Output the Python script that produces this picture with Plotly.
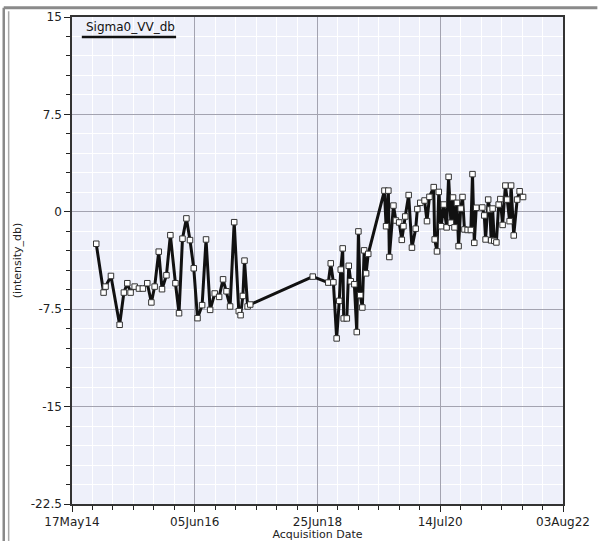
import plotly.graph_objects as go

dates = [
    "2014-10-12", "2014-11-26", "2014-12-08", "2015-01-10", "2015-03-04", "2015-03-30",
    "2015-04-20", "2015-05-10", "2015-06-04", "2015-06-30", "2015-07-24", "2015-08-20",
    "2015-09-14", "2015-10-04", "2015-10-29", "2015-11-18", "2015-12-15", "2016-01-08",
    "2016-02-08", "2016-03-01", "2016-03-22", "2016-04-15", "2016-05-07", "2016-05-30",
    "2016-06-22", "2016-07-20", "2016-08-13", "2016-09-07", "2016-10-05", "2016-11-01",
    "2016-11-25", "2016-12-16", "2017-01-07", "2017-02-01", "2017-03-01", "2017-03-12",
    "2017-03-26", "2017-04-05", "2017-04-24", "2017-05-10",
    "2018-05-27", "2018-08-30", "2018-09-14", "2018-09-30", "2018-10-20", "2018-11-05",
    "2018-11-14", "2018-11-26", "2018-12-02", "2018-12-21", "2019-01-02", "2019-01-14",
    "2019-02-05", "2019-02-20", "2019-03-02", "2019-03-13", "2019-03-26", "2019-04-06",
    "2019-04-18", "2019-05-01", "2019-08-08", "2019-08-18", "2019-09-01", "2019-09-07",
    "2019-10-02", "2019-10-17", "2019-11-06", "2019-11-22", "2019-12-02", "2019-12-13",
    "2020-01-03", "2020-01-23", "2020-02-15", "2020-02-25", "2020-03-14", "2020-04-09",
    "2020-04-24", "2020-05-09", "2020-06-04", "2020-06-10", "2020-06-24", "2020-07-05",
    "2020-07-20", "2020-08-04", "2020-08-22", "2020-09-03", "2020-09-17", "2020-09-30",
    "2020-10-09", "2020-10-24", "2020-11-03", "2020-11-16", "2020-11-27", "2020-12-09",
    "2020-12-28", "2021-01-17", "2021-01-27", "2021-02-07", "2021-02-19", "2021-03-28",
    "2021-04-09", "2021-04-17", "2021-05-03", "2021-05-13", "2021-05-21", "2021-05-30",
    "2021-06-09", "2021-06-22", "2021-07-06", "2021-07-16", "2021-07-30", "2021-08-16",
    "2021-08-27", "2021-09-11", "2021-09-20", "2021-10-06", "2021-10-27", "2021-11-11",
    "2021-12-02",
]

sigma0_vv_db = [
    -2.46, -6.22, -5.76, -4.94, -8.70, -6.22,
    -5.50, -6.22, -5.76, -5.91, -5.91, -5.50,
    -6.98, -5.76, -3.07, -5.96, -4.89, -1.80,
    -5.50, -7.81, -2.07, -0.51, -2.18, -4.35,
    -8.19, -7.19, -2.13, -7.55, -6.29, -6.55,
    -5.20, -6.12, -7.29, -0.80, -7.65, -7.96,
    -6.48, -3.76, -7.29, -7.14,
    -4.99, -5.45, -3.97, -5.43, -9.75, -6.86,
    -4.45, -2.82, -8.21, -8.21, -4.16, -5.35,
    -5.58, -9.26, -1.51, -6.42, -7.37, -2.97,
    -4.74, -3.24, 1.63, -1.11, 1.63, -3.48,
    0.48, -0.67, -0.82, -2.16, -1.11, -0.36,
    1.29, -2.76, -1.30, 0.21, 0.69, 0.87,
    -0.72, 1.15, 1.90, -2.13, -3.05, 1.53,
    -1.11, 0.56, -1.20, 2.69, -0.84, 1.10,
    -1.20, 0.69, -2.64, 0.25, 1.14, -1.36,
    -1.40, -1.40, 2.90, -2.39, 0.31, 0.33,
    -0.28, -2.13, 0.94, 0.18, -2.20, 0.25,
    -2.24, -2.36, 0.56, 0.98, -1.01, 2.02,
    0.94, -0.72, 2.02, -1.82, 0.94, 1.58,
    1.14,
]

y_ticks = [-22.5, -15, -7.5, 0, 7.5, 15]
y_tick_labels = ["-22.5", "-15", "-7.5", "0", "7.5", "15"]
x_range = ["2014-05-17", "2022-08-03"]
series_name = "Sigma0_VV_db"

DAY_MS = 86400000
FONT = "DejaVu Sans"

fig = go.Figure()
fig.add_trace(go.Scatter(
    x=dates, y=sigma0_vv_db, mode="lines+markers", name=series_name,
    line=dict(color="#111111", width=3),
    marker=dict(symbol="square", size=5.5, color="white",
                line=dict(color="#333333", width=1)),
    showlegend=False,
))

fig.update_layout(
    width=605, height=541,
    margin=dict(l=72, r=42, t=17, b=37, autoexpand=False),
    paper_bgcolor="white",
    plot_bgcolor="#EEF0FA",
    font=dict(family=FONT, size=12, color="#222222"),
    xaxis=dict(
        type="date", range=x_range, automargin=False,
        tick0="2014-05-17", dtick=750 * DAY_MS, tickformat="%d%b%y",
        ticks="outside", ticklen=6, tickcolor="#222",
        showline=True, linecolor="#333", linewidth=1.5, mirror=True,
        showgrid=True, gridcolor="#A3A3B0", gridwidth=1,
        minor=dict(dtick=125 * DAY_MS, tick0="2014-05-17", ticks="outside",
                   ticklen=4, tickcolor="#222", showgrid=True,
                   gridcolor="#FFFFFF", gridwidth=1),
        title=dict(text="Acquisition Date", font=dict(size=11, family=FONT),
                   standoff=1),
        tickfont=dict(size=12, family=FONT),
        zeroline=False,
    ),
    yaxis=dict(
        range=[-22.5, 15], tickvals=y_ticks, ticktext=y_tick_labels,
        automargin=False,
        ticks="outside", ticklen=6, tickcolor="#222",
        showline=True, linecolor="#333", linewidth=1.5, mirror=True,
        showgrid=True, gridcolor="#A3A3B0", gridwidth=1,
        minor=dict(dtick=1.5, tick0=0, ticks="outside", ticklen=4,
                   tickcolor="#222", showgrid=True, gridcolor="#FFFFFF",
                   gridwidth=1),
        title=dict(text="(intensity_db)", font=dict(size=11, family=FONT),
                   standoff=7),
        tickfont=dict(size=12, family=FONT),
        zeroline=False,
    ),
)

# legend-like label with underline
fig.add_annotation(
    xref="paper", yref="paper", x=0.024, y=0.979, xanchor="left", yanchor="middle",
    text=series_name, showarrow=False, font=dict(size=12, family=FONT, color="#111"),
)
fig.add_shape(type="line", xref="paper", yref="paper",
              x0=0.020, x1=0.212, y0=0.959, y1=0.959,
              line=dict(color="#111", width=2.5))

# outer window frame
fig.add_shape(type="line", xref="paper", yref="paper",
              x0=-0.139, x1=1.07, y0=1.019, y1=1.019,
              line=dict(color="#8A8A8A", width=3))
fig.add_shape(type="line", xref="paper", yref="paper",
              x0=-0.139, x1=-0.139, y0=1.019, y1=-0.08,
              line=dict(color="#8A8A8A", width=2.5))
fig.add_shape(type="line", xref="paper", yref="paper",
              x0=-0.129, x1=-0.129, y0=1.012, y1=-0.08,
              line=dict(color="#A8A8A8", width=1.5))

fig.write_html(
    "out.html",
    config={"displayModeBar": False},
    post_script="document.body.style.margin='0';document.body.style.padding='0';",
)
